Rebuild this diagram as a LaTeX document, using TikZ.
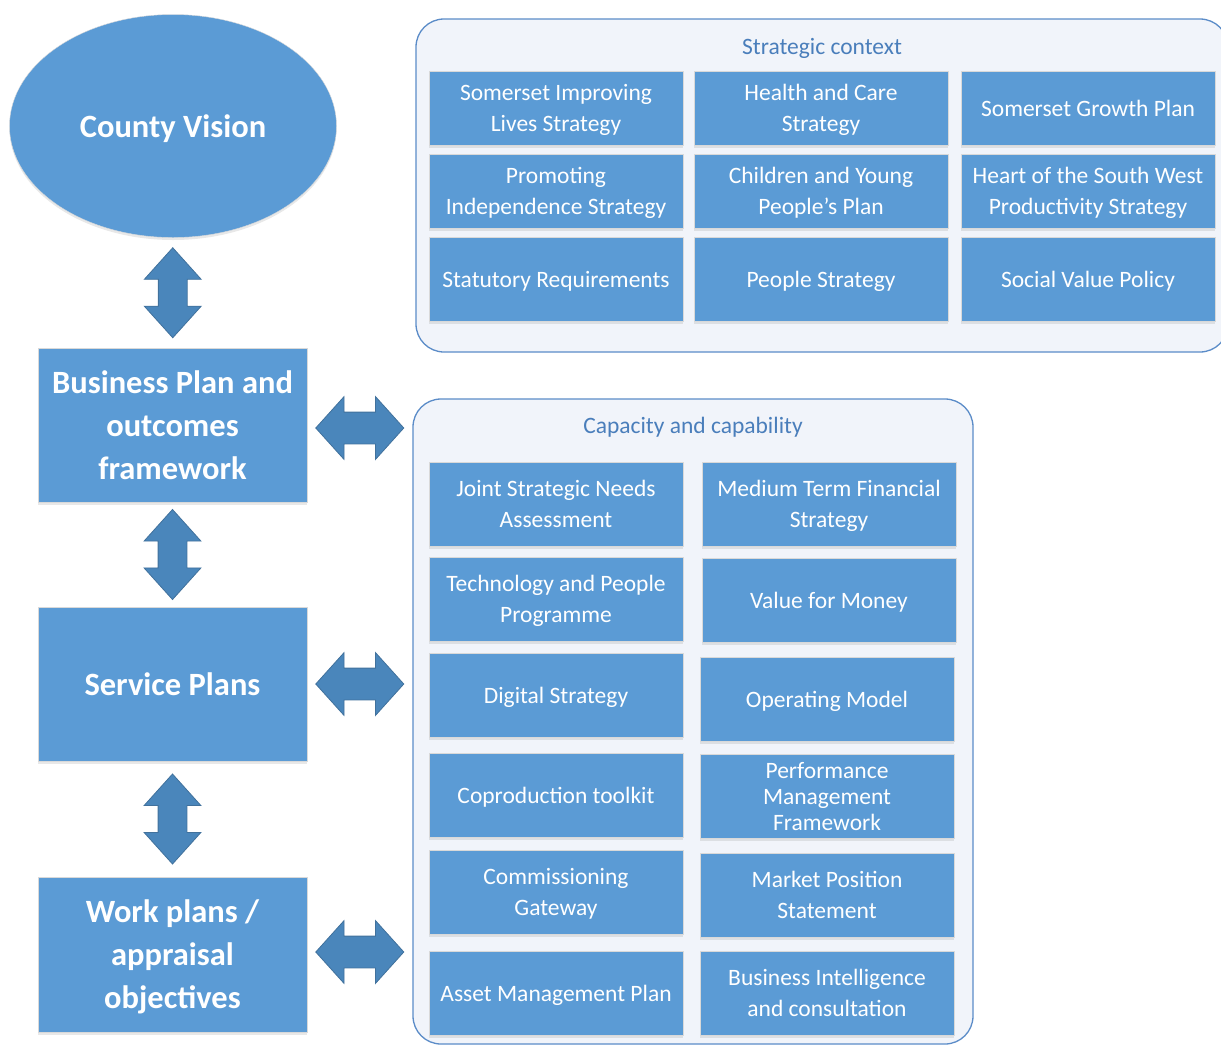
\documentclass[tikz,border=0pt]{standalone}
\usepackage{fontspec}
\setmainfont{Carlito}
\usetikzlibrary{shapes.geometric,shapes.arrows,calc,positioning,shadows}

\definecolor{boxblue}{HTML}{5B9BD5}
\definecolor{arrowblue}{HTML}{4A86BB}
\definecolor{arrowline}{HTML}{41719C}
\definecolor{frameblue}{HTML}{5B8CC8}
\definecolor{framefill}{HTML}{F1F4FA}
\definecolor{titleblue}{HTML}{4A7EBB}

\tikzset{
  softshadow/.style={drop shadow={shadow xshift=0pt, shadow yshift=-2.5pt, opacity=0.18}},
  plan/.style={rectangle, fill=boxblue, draw=black!15, text=white, align=center,
    minimum width=269pt, minimum height=154pt, inner sep=0pt, text depth=0pt,
    font=\fontsize{32.5}{43}\selectfont\bfseries, softshadow},
  item/.style={rectangle, fill=boxblue, draw=black!15, text=white, align=center,
    minimum width=254pt, minimum height=84pt, inner sep=0pt, text depth=0pt,
    font=\fontsize{23.5}{31}\selectfont, softshadow},
  frame/.style={rectangle, draw=frameblue, line width=1.3pt, fill=framefill,
    rounded corners=28pt, inner sep=0pt},
  headline/.style={text=titleblue, inner sep=0pt, font=\fontsize{23.5}{31}\selectfont},
  vlink/.style={double arrow, rotate=90, fill=arrowblue, draw=arrowline, line width=0.8pt,
    minimum height=90pt, double arrow head extend=14pt,
    double arrow tip angle=84, inner xsep=0pt, inner ysep=14pt},
  hlink/.style={double arrow, fill=arrowblue, draw=arrowline, line width=0.8pt,
    minimum height=88pt, double arrow head extend=15.5pt,
    double arrow tip angle=96, inner xsep=0pt, inner ysep=15.5pt},
}

\begin{document}
\begin{tikzpicture}[x=1pt, y=-1pt]
  \useasboundingbox (0,0) rectangle (1221,1045);

  % left column
  \node[ellipse, fill=boxblue, draw=black!15, text=white, minimum width=327pt, minimum height=223pt,
    text depth=0pt, font=\fontsize{32.5}{43}\selectfont\bfseries, softshadow] (vision) at (173,126)
    {County Vision};
  \node[plan] (biz) at (172.5,425) {Business Plan and\\outcomes\\framework};
  \node[plan] (service) at (172.5,684) {Service Plans};
  \node[plan, minimum height=155pt] (work) at (172.5,954.5) {Work plans /\\appraisal\\objectives};

  % strategic context
  \node[frame, minimum width=812pt, minimum height=333pt] (strat) at (822,185.5) {};
  \node[headline, below=19.5pt of strat.north] (strattitle) {Strategic context};

  \node[item, minimum height=74pt] (improving) at (556,108) {Somerset Improving\\Lives Strategy};
  \node[item, minimum height=74pt] (health) at (821,108) {Health and Care\\Strategy};
  \node[item, minimum height=74pt] (growth) at (1088,108) {Somerset Growth Plan};
  \node[item, minimum height=74pt] (independence) at (556,191) {Promoting\\Independence Strategy};
  \node[item, minimum height=74pt] (children) at (821,191) {Children and Young\\People’s Plan};
  \node[item, minimum height=74pt] (heartsw) at (1088,191) {Heart of the South West\\Productivity Strategy};
  \node[item] (statutory) at (556,279) {Statutory Requirements};
  \node[item] (people) at (821,279) {People Strategy};
  \node[item] (social) at (1088,279) {Social Value Policy};

  % capacity and capability
  \node[frame, minimum width=560pt, minimum height=645pt] (cap) at (693,721.5) {};
  \node[headline, below=19pt of cap.north] (captitle) {Capacity and capability};

  \node[item] (jsna) at (556,504) {Joint Strategic Needs\\Assessment};
  \node[item] (mtfs) at (829,504) {Medium Term Financial\\Strategy};
  \node[item] (techpeople) at (556,599) {Technology and People\\Programme};
  \node[item] (vfm) at (829,600) {Value for Money};
  \node[item] (digital) at (556,695) {Digital Strategy};
  \node[item] (opmodel) at (827,699) {Operating Model};
  \node[item] (coprod) at (556,795) {Coproduction toolkit};
  \node[item, font=\fontsize{23.5}{26}\selectfont] (perfmgmt) at (827,796) {Performance\\Management\\Framework};
  \node[item] (commission) at (556,892) {Commissioning\\Gateway};
  \node[item] (market) at (827,895) {Market Position\\Statement};
  \node[item] (asset) at (556,993) {Asset Management Plan};
  \node[item] (bizintel) at (827,993) {Business Intelligence\\and consultation};

  % block arrows
  \node[vlink] (v1) at ($(vision.south)!0.5!(biz.north)$) {};
  \node[vlink] (v2) at ($(biz.south)!0.5!(service.north)$) {};
  \node[vlink] (v3) at ($(service.south)!0.5!(work.north)$) {};
  \node[hlink] (h1) at ($(biz.east)!0.5!(biz.east -| cap.west)+(0,3)$) {};
  \node[hlink] (h2) at ($(service.east)!0.5!(service.east -| cap.west)$) {};
  \node[hlink] (h3) at ($(work.east)!0.5!(work.east -| cap.west)+(0,-2.5)$) {};
\end{tikzpicture}
\end{document}
